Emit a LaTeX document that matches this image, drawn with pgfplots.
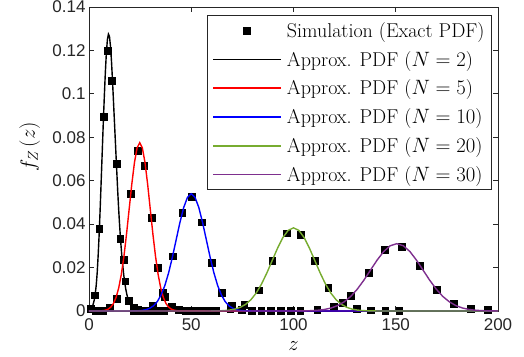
\documentclass[border=0pt]{standalone}
\usepackage{fontspec}
\usepackage{pgfplots}
\pgfplotsset{compat=1.18}
\newfontfamily\ticksfont{Liberation Sans}
\definecolor{mgreen}{RGB}{119,172,48}
\definecolor{mpurple}{RGB}{126,47,142}
\definecolor{axgray}{RGB}{38,38,38}
\begin{document}
\begin{tikzpicture}
\useasboundingbox (-89pt,-45pt) rectangle (435pt,311pt);
\begin{axis}[
  at={(0pt,0pt)}, anchor=south west,
  scale only axis, width=409pt, height=304pt,
  xmin=0, xmax=200, ymin=0, ymax=0.14,
  xtick={0,50,100,150,200},
  xticklabels={0,50,100,150,200},
  ytick={0,0.02,0.04,0.06,0.08,0.1,0.12,0.14},
  yticklabels={0,0.02,0.04,0.06,0.08,0.1,0.12,0.14},
  tick align=inside,
  major tick length=5pt,
  axis line style={axgray, line width=0.8pt},
  every tick/.style={axgray, line width=0.8pt},
  tick label style={font=\ticksfont\fontsize{17}{17}\selectfont, text=axgray},
  xticklabel style={yshift=-4pt},
  /pgf/number format/assume math mode=true,
  xlabel={$z$}, ylabel={$f_Z\left(z\right)$},
  label style={font=\fontsize{20}{20}\selectfont},
  xlabel style={at={(axis description cs:0.5,-0.115)}, anchor=center},
  ylabel style={at={(axis description cs:-0.145,0.54)}, anchor=center},
  clip mode=individual,
  legend cell align=left,
  legend style={at={(axis description cs:0.9853,0.9737)}, anchor=north east, draw=axgray, line width=0.9pt, font=\fontsize{20}{20}\selectfont, row sep=8.3pt, column sep=3pt, inner xsep=5pt, inner ysep=5pt},
  legend image code/.code={\draw[mark repeat=2,mark phase=2,line width=1.5pt] plot coordinates {(0pt,0pt) (34pt,0pt) (68pt,0pt)};},
]
\addplot[only marks, mark=square*, mark size=3.4pt, black] coordinates {
(0.8,0.0012) (2.9,0.0073) (5.0,0.038) (7.0,0.0894) (9.0,0.1197) (11.1,0.106) (13.4,0.0679) (15.3,0.0333) (17.7,0.0137) (19.6,0.0047) (21.7,0.0015) (23.8,0.0005) (25.9,0.0002) (28.0,0.0001) (30.1,0) (32.2,0) (34.3,0) (36.4,0)
(3.3,0) (6.7,0.0003) (10.1,0.0015) (13.5,0.0058) (17.0,0.0237) (20.4,0.054) (23.9,0.074) (27.0,0.067) (30.6,0.0429) (33.7,0.0201) (37.2,0.0065) (40.6,0.0022) (44.0,0.0007) (47.4,0.0002) (50.8,0.0001) (54.2,0) (57.6,0) (61.0,0)
(21.7,0) (26.5,0.0003) (31.3,0.0023) (36.1,0.0084) (40.9,0.0252) (45.6,0.0454) (50.3,0.0528) (55.3,0.0409) (60.1,0.0223) (64.9,0.0086) (69.8,0.0027) (74.6,0.0007) (79.4,0.0002) (84.2,0) (89.0,0) (93.8,0) (98.6,0)
(55.2,0) (62.1,0.0002) (69.0,0.0009) (75.9,0.003) (82.8,0.0096) (89.6,0.0233) (96.7,0.0358) (103.5,0.0352) (110.4,0.0233) (117.0,0.0108) (124.1,0.0038) (131.0,0.0012) (137.9,0.0004) (144.8,0.0001) (151.7,0)
(103.3,0.0002) (111.6,0.0007) (119.5,0.002) (128.0,0.007) (136.6,0.0175) (144.7,0.0282) (152.9,0.0297) (161.9,0.021) (170.0,0.0099) (178.2,0.0035) (186.8,0.0009) (195.0,0.0005)
};
\addlegendentry{Simulation (Exact PDF)}
\addplot[black, line width=1.4pt] coordinates {
(0,0) (0.5,0.0003) (1,0.0008) (1.5,0.0016) (2,0.003) (2.5,0.0048) (3,0.0075) (3.5,0.0115) (4,0.0175) (4.5,0.026) (5,0.036) (5.5,0.048) (6,0.061) (6.5,0.074) (7,0.087) (7.5,0.099) (8,0.11) (8.5,0.119) (9,0.125) (9.5,0.1275) (10,0.1265) (10.5,0.122) (11,0.115) (11.5,0.106) (12,0.096) (12.5,0.086) (13,0.076) (13.5,0.066) (14,0.056) (14.5,0.047) (15,0.039) (15.5,0.032) (16,0.026) (16.5,0.021) (17,0.0165) (17.5,0.013) (18,0.01) (18.5,0.0077) (19,0.0058) (20,0.0033) (21,0.0018) (22,0.001) (23,0.0005) (24,0.0003) (26,0.00008) (28,0) (200,0)
};
\addlegendentry{Approx. PDF ($N=2$)}
\addplot[red, line width=1.4pt] coordinates {
(0,0) (4.2,0.000026) (5.49,0.0000685) (6.78,0.000169) (8.06,0.000394) (9.35,0.000861) (10.64,0.001766) (11.93,0.003405) (13.21,0.006166) (14.5,0.010489) (15.79,0.016761) (17.08,0.02516) (18.36,0.035482) (19.65,0.047006) (20.94,0.0585) (22.23,0.068394) (23.51,0.075115) (24.8,0.0775) (26.09,0.075115) (27.38,0.068394) (28.66,0.0585) (29.95,0.047006) (31.24,0.035482) (32.53,0.02516) (33.81,0.016761) (35.1,0.010489) (36.39,0.006166) (37.68,0.003405) (38.96,0.001766) (40.25,0.000861) (41.54,0.000394) (42.83,0.000169) (44.11,0.0000685) (45.4,0.000026) (200,0)
};
\addlegendentry{Approx. PDF ($N=5$)}
\addplot[blue, line width=1.4pt] coordinates {
(0,0) (20.44,0.0000181) (22.29,0.0000477) (24.14,0.000118) (25.98,0.000275) (27.83,0.0006) (29.68,0.001231) (31.53,0.002373) (33.37,0.004296) (35.22,0.007308) (37.07,0.011679) (38.92,0.017531) (40.76,0.024723) (42.61,0.032753) (44.46,0.040761) (46.31,0.047655) (48.15,0.052338) (50,0.054) (51.85,0.052338) (53.7,0.047655) (55.54,0.040761) (57.39,0.032753) (59.24,0.024723) (61.09,0.017531) (62.93,0.011679) (64.78,0.007308) (66.63,0.004296) (68.48,0.002373) (70.32,0.001231) (72.17,0.0006) (74.02,0.000275) (75.87,0.000118) (77.71,0.0000477) (79.56,0.0000181) (200,0)
};
\addlegendentry{Approx. PDF ($N=10$)}
\addplot[mgreen, line width=1.4pt] coordinates {
(0,0) (58.32,0.0000128) (60.93,0.0000339) (63.53,0.0000838) (66.14,0.000195) (68.74,0.000425) (71.35,0.000873) (73.95,0.001683) (76.56,0.003047) (79.16,0.005184) (81.77,0.008283) (84.37,0.012434) (86.98,0.017535) (89.58,0.02323) (92.19,0.02891) (94.79,0.0338) (97.4,0.037122) (100,0.0383) (102.61,0.037122) (105.21,0.0338) (107.82,0.02891) (110.42,0.02323) (113.03,0.017535) (115.63,0.012434) (118.24,0.008283) (120.84,0.005184) (123.45,0.003047) (126.05,0.001683) (128.66,0.000873) (131.26,0.000425) (133.87,0.000195) (136.47,0.0000838) (139.08,0.0000339) (141.68,0.0000128) (200,0)
};
\addlegendentry{Approx. PDF ($N=20$)}
\addplot[mpurple, line width=1.4pt] coordinates {
(0,0) (99.02,0.0000104) (102.24,0.0000274) (105.46,0.0000678) (108.67,0.000158) (111.89,0.000344) (115.11,0.000706) (118.33,0.001362) (121.55,0.002466) (124.76,0.004196) (127.98,0.006704) (131.2,0.010064) (134.41,0.014193) (137.63,0.018802) (140.85,0.0234) (144.07,0.027358) (147.28,0.030046) (150.5,0.031) (153.72,0.030046) (156.94,0.027358) (160.15,0.0234) (163.37,0.018802) (166.59,0.014193) (169.81,0.010064) (173.02,0.006704) (176.24,0.004196) (179.46,0.002466) (182.68,0.001362) (185.89,0.000706) (189.11,0.000344) (192.33,0.000158) (195.55,0.0000678) (198.76,0.0000274) (200,0.000019)
};
\addlegendentry{Approx. PDF ($N=30$)}
\end{axis}
\end{tikzpicture}
\end{document}
